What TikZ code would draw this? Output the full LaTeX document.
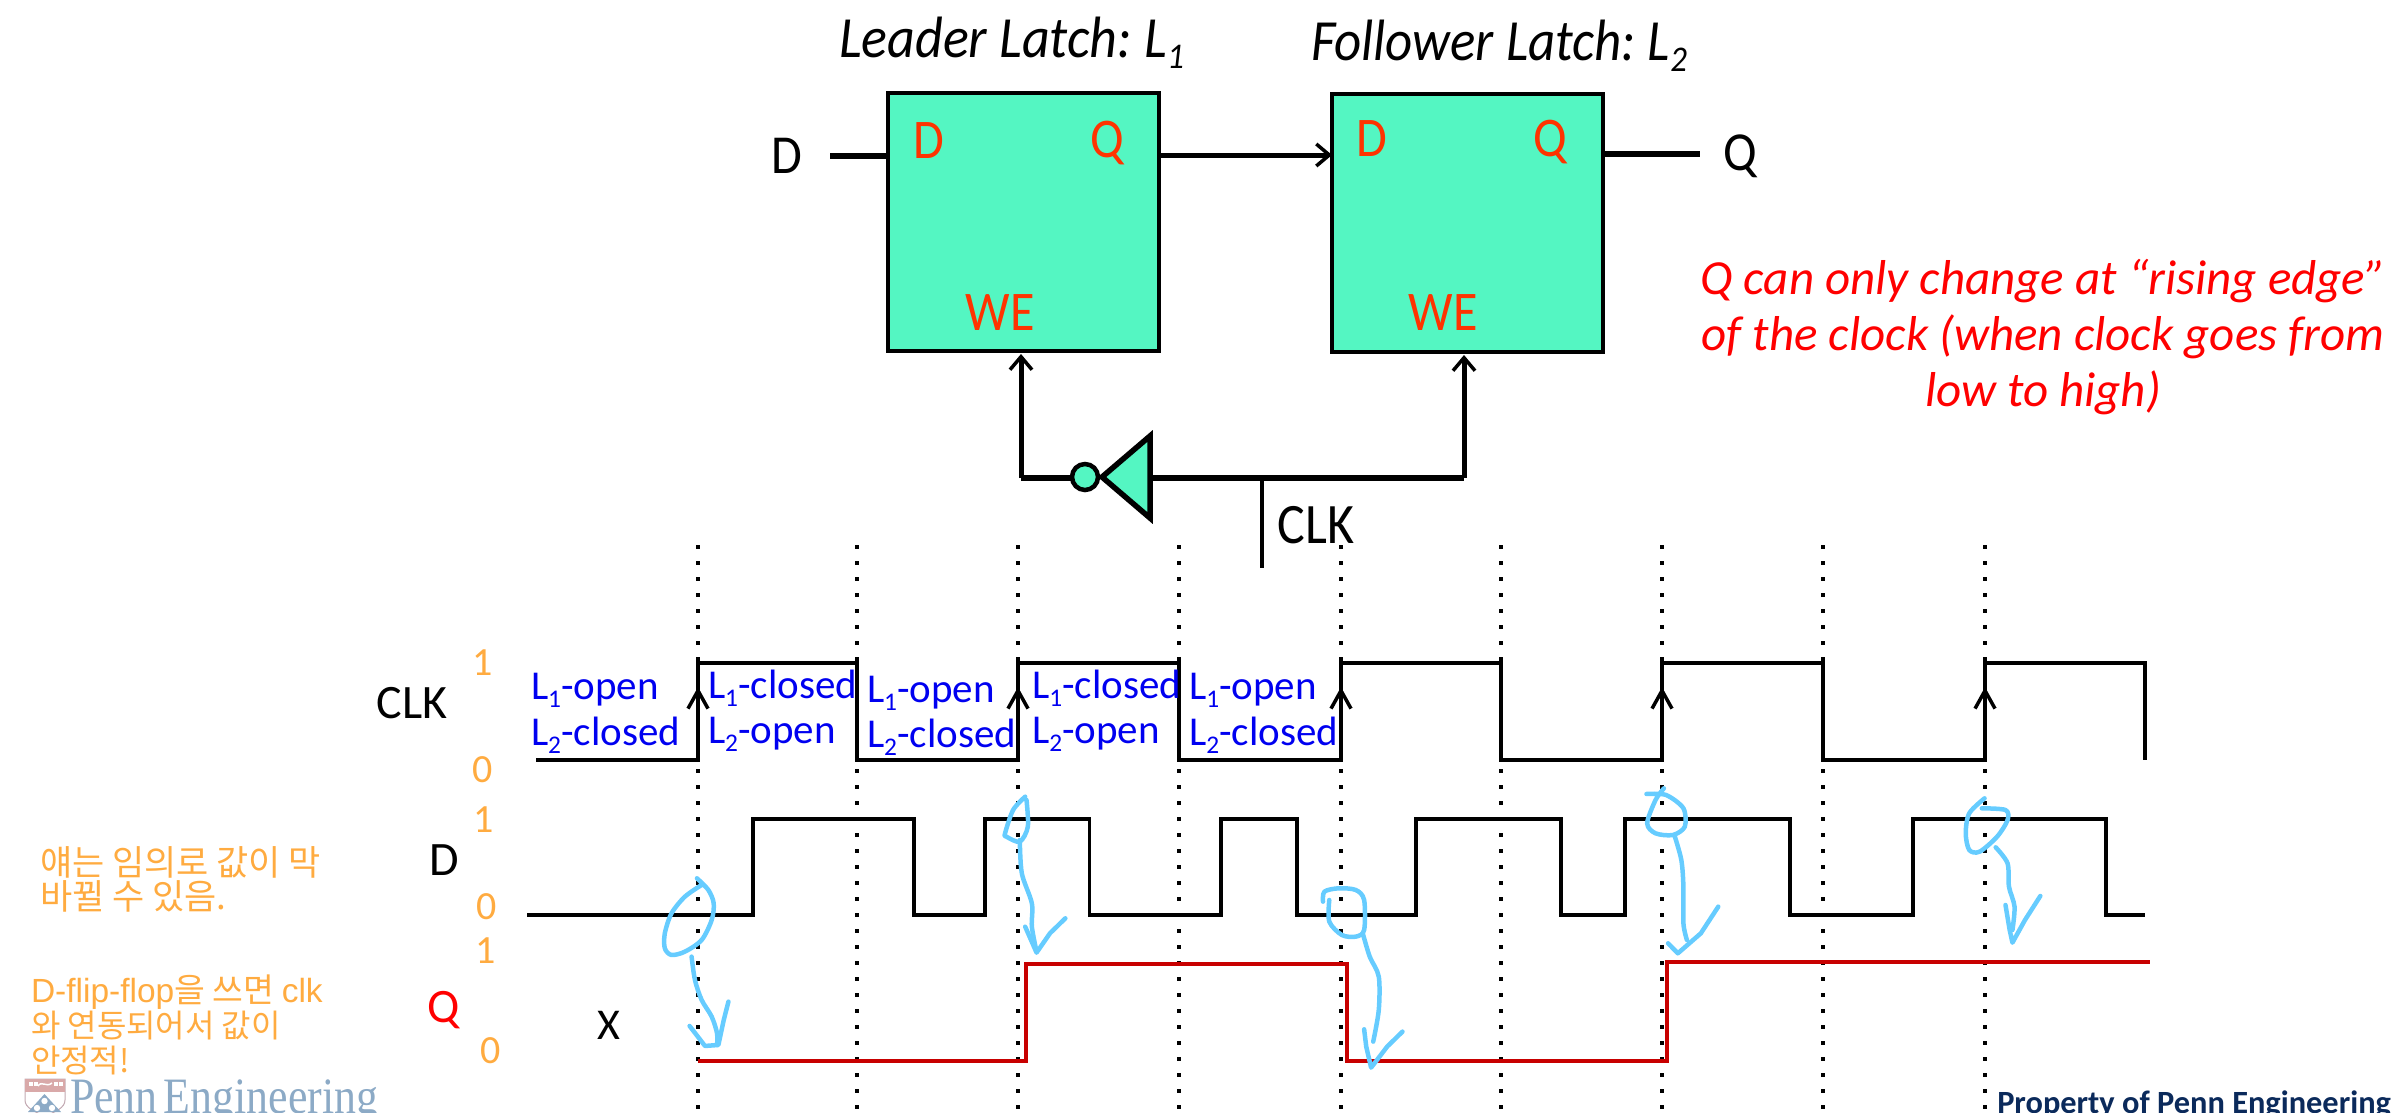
\documentclass[tikz,border=0pt]{standalone}
\usepackage{fontspec}
\setmainfont{Carlito}
\newfontfamily\krfont{Noto Sans CJK KR}
\newfontfamily\arialfont{Liberation Sans}
\newfontfamily\logofont{Liberation Serif}
\usetikzlibrary{arrows.meta,calc}
\definecolor{latchfill}{HTML}{54F6C2}
\definecolor{pinred}{HTML}{FF3300}
\definecolor{statblue}{HTML}{0000F0}
\definecolor{noteorange}{HTML}{FFAB40}
\definecolor{handblue}{HTML}{66CCFF}
\definecolor{qred}{HTML}{C80000}
\definecolor{navytext}{HTML}{0B2A5B}
\definecolor{logoblue}{HTML}{8CAAC6}
\definecolor{logored}{HTML}{D9A9A9}
\newcommand{\sbs}[1]{\raisebox{-.2em}{\scalebox{.62}{#1}}}
\newcommand{\fsz}[1]{\fontsize{#1}{#1}\selectfont}
\frenchspacing
\tikzset{
  every node/.style={inner sep=0pt,outer sep=0pt},
  latch/.style={draw=black,line width=4.5pt,fill=latchfill,minimum width=271pt,minimum height=258pt,anchor=north west},
  pin/.style={text=pinred,font=\fsz{50},yscale=1.12},
  ext/.style={text=black,font=\fsz{50},yscale=1.1},
  title/.style={font=\fsz{54}\itshape,anchor=base west,yscale=1.08},
  wire/.style={line width=5.5pt},
  arrowwire/.style={line width=5pt,-{Straight Barb[length=13pt,width=22pt,line width=3.5pt]}},
  dots/.style={line width=3.5pt,dash pattern=on 3.5pt off 12.5pt},
  clkwave/.style={line width=4pt,line join=miter},
  dwave/.style={line width=3.6pt},
  qwave/.style={line width=4pt,draw=qred},
  stat/.style={text=statblue,font=\fsz{41},anchor=base west},
  lvl/.style={text=noteorange,font=\fsz{40}},
  rowname/.style={font=\fsz{48}},
  note/.style={text=noteorange,font=\fsz{35}\krfont,anchor=base west},
  note2/.style={text=noteorange,font=\fsz{32}\krfont,anchor=base west},
  hand/.style={draw=handblue,line width=4.5pt,line cap=round,line join=round},
  zoomA/.style={shift={(350pt,-620pt)},x=0.6698pt,y=-0.3333pt},
  zoomB/.style={shift={(1300pt,-620pt)},x=0.6971pt,y=-0.3333pt},
  rising/.style={line width=3.5pt,-{Straight Barb[length=18pt,width=20pt,line width=3.5pt]}},
}
\begin{document}
\begin{tikzpicture}[x=1pt,y=-1pt]
\useasboundingbox (0,0) rectangle (2393,1112);
\clip (0,0) rectangle (2393,1112);
% titles
\node[title] (t1) at (839,57) {Leader Latch: L\sbs{1}};
\node[title,xscale=.98] (t2) at (1311,60) {Follower Latch: L\sbs{2}};
% latches
\node[latch] (b1) at (888,93) {};
\node[latch] (b2) at (1332,94) {};
\node[pin] (d1) at (929,141) {D};
\node[pin] (q1) at (1107,143) {Q};
\node[pin] (we1) at (1000,313) {WE};
\node[pin] (d2) at (1372,139) {D};
\node[pin] (q2) at (1550,142) {Q};
\node[pin] (we2) at (1443,313) {WE};
% external
\node[ext] (dext) at (787,156) {D};
\node[ext] (qext) at (1740,156) {Q};
\coordinate (dstub) at (830,156);
\coordinate (qstub) at (1700,154);
\draw[wire] (dstub) -- (dstub -| b1.west);
\draw[arrowwire] (b1.east |- 0,155) -- (b2.west |- 0,155);
\draw[wire] (b2.east |- qstub) -- (qstub);
% inverter and clock
\coordinate (bus) at (1464,478);
\coordinate (leftc) at (1021,478);
\coordinate (clkj) at (1262,478);
\coordinate (clkend) at (1262,568);
\coordinate (tribase) at (1150,478);
\draw[wire] (tribase) -- (bus);
\draw[wire] (leftc) -- (1075,478);
\draw[arrowwire] (leftc) -- (1021,354);
\draw[arrowwire] (bus) -- (1464,355);
\draw[line width=4.5pt] (clkj) -- (clkend);
\draw[line width=5.5pt,fill=latchfill,line join=miter] (1150,436) -- (1102,477) -- (1150,518) -- cycle;
\node[draw=black,line width=4.5pt,fill=latchfill,circle,minimum size=26pt] (bub) at (1085,477) {};
\node[ext,font=\fsz{52}] (clkt) at (1316,525) {CLK};
% note
\node[text=red,font=\fsz{49}\itshape,align=center,anchor=north] (rn) at (2043,259) {Q can only change at “rising edge”\\[7pt]of the clock (when clock goes from\\[7pt]low to high)};
% dotted
\foreach \xx in {698,857,1018,1179,1341,1501,1662,1823,1985}
  \draw[dots] (\xx,545.2) -- (\xx,1112);
% waveforms
\draw[clkwave] (536,760) -- (698,760) -- (698,663) -- (857,663) -- (857,760) -- (1018,760) -- (1018,663) -- (1179,663) -- (1179,760) -- (1341,760) -- (1341,663) -- (1501,663) -- (1501,760) -- (1662,760) -- (1662,663) -- (1823,663) -- (1823,760) -- (1985,760) -- (1985,663) -- (2145,663) -- (2145,760);
\foreach \xx in {698,1018,1341,1662,1985}
  \draw[rising] (\xx,712) -- (\xx,687);
\draw[dwave] (527,915) -- (753,915) -- (753,819) -- (914,819) -- (914,915) -- (985,915) -- (985,819) -- (1089.5,819) -- (1089.5,915) -- (1221,915) -- (1221,819) -- (1297,819) -- (1297,915) -- (1416,915) -- (1416,819) -- (1561,819) -- (1561,915) -- (1625,915) -- (1625,819) -- (1790,819) -- (1790,915) -- (1913,915) -- (1913,819) -- (2106,819) -- (2106,915) -- (2145,915);
\draw[qwave] (698,1061) -- (1026,1061) -- (1026,964) -- (1347,964) -- (1347,1061) -- (1667,1061) -- (1667,962) -- (2150,962);
% state labels
\node[stat] (s1a) at (531,699) {L\sbs{1}-open};
\node[stat] (s1b) at (531,745) {L\sbs{2}-closed};
\node[stat] (s2a) at (708,698) {L\sbs{1}-closed};
\node[stat] (s2b) at (708,743) {L\sbs{2}-open};
\node[stat] (s3a) at (867,702) {L\sbs{1}-open};
\node[stat] (s3b) at (867,747) {L\sbs{2}-closed};
\node[stat] (s4a) at (1032,698) {L\sbs{1}-closed};
\node[stat] (s4b) at (1032,743) {L\sbs{2}-open};
\node[stat] (s5a) at (1189,699) {L\sbs{1}-open};
\node[stat] (s5b) at (1189,745) {L\sbs{2}-closed};
% row names
\node[rowname] (rclk) at (412,703) {CLK};
\node[rowname] (rd) at (444,860) {D};
\node[rowname,text=red] (rq) at (444,1010) {Q};
\node[rowname,font=\fsz{44}] (rx) at (609,1025) {X};
\node[lvl] (c1) at (483,663) {1};
\node[lvl] (c0) at (483,770) {0};
\node[lvl] (d1l) at (484,820) {1};
\node[lvl] (d0l) at (487,907) {0};
\node[lvl] (q1l) at (486,951) {1};
\node[lvl] (q0l) at (491,1051) {0};
% notes
\node[note] (n1) at (40,875) {얘는 임의로 값이 막};
\node[note] (n2) at (40,909) {바뀔 수 있음.};
\node[note,font=\fsz{33.5}\krfont] (n3) at (31,1002) {{\arialfont D-flip-flop}을 쓰면 {\arialfont clk}};
\node[note2] (n4) at (31,1037) {와 연동되어서 값이};
\node[note2] (n5) at (31,1072) {안정적!};
% footer logo
\fill[white,draw=logored!70!logoblue,line width=1pt] (25,1079) -- (65,1079) -- (65,1100) .. controls (65,1108) and (55,1112) .. (45,1116) .. controls (35,1112) and (25,1108) .. (25,1100) -- cycle;
\fill[logored] (25,1079) rectangle (65,1092);
\foreach \xx in {29,34,54,59}
  \fill[white] (\xx,1082) rectangle +(3.5,4);
\draw[white,line width=1.5pt] (38,1086) .. controls (42,1080) and (46,1088) .. (52,1083);
\fill[logoblue] (44.5,1094) -- (28,1112) -- (61,1112) -- cycle;
\fill[white] (44.5,1101) circle (3.2);
\fill[white] (37,1108) circle (3.2);
\fill[white] (52,1108) circle (3.2);
\node[text=logoblue,font=\fsz{51}\logofont,anchor=base west,xscale=.86] (logo) at (70,1113) {Penn\hspace{.14em}Engineering};
\node[text=navytext,font=\fsz{32.4}\bfseries,anchor=base east] (prop) at (2391,1113) {Property of Penn Engineering};
% handwriting
\begin{scope}[zoomA]
\draw[hand] plot[smooth] coordinates {(518,775)(535,810)(543,850)(540,900)(525,960)(500,995)(480,1005)(470,985)(470,940)(480,880)(500,830)(525,795)};
\draw[hand] plot[smooth] coordinates {(510,1010)(515,1080)(525,1140)(540,1190)(548,1240)(548,1275)};
\draw[hand] (565,1145) -- (558,1200) -- (550,1275) -- (530,1278) -- (507,1218);
\draw[hand] plot[smooth] coordinates {(1008,530)(990,570)(978,640)(980,650)(1000,665)(1012,620)(1010,540)};
\draw[hand] plot[smooth] coordinates {(1000,660)(1003,760)(1018,850)(1018,920)(1025,995)};
\draw[hand] (1008,920) -- (1025,998) -- (1045,940) -- (1068,895);
\end{scope}
\begin{scope}[zoomB]
\draw[hand] plot[smooth] coordinates {(33,845)(35,815)(55,805)(80,810)(92,840)(92,930)(80,950)(60,945)(42,905)(42,840)};
\draw[hand] plot[smooth] coordinates {(90,940)(100,1010)(113,1070)(113,1170)(105,1265)};
\draw[hand] (92,1228) -- (95,1280) -- (102,1343) -- (125,1280) -- (147,1235);
\draw[hand] plot[smooth] coordinates {(497,522)(525,525)(550,565)(552,620)(535,645)(510,640)(498,610)(510,540)(522,505)};
\draw[hand] plot[smooth] coordinates {(537,645)(547,720)(550,800)(550,910)(555,960)};
\draw[hand] (528,970) -- (542,1000) -- (575,940) -- (600,860);
\draw[hand] plot[smooth] coordinates {(982,535)(960,580)(955,640)(960,690)(975,695)(1000,650)(1015,600)(1012,570)(978,565)};
\draw[hand] plot[smooth] coordinates {(998,682)(1015,730)(1017,800)(1025,860)(1022,930)};
\draw[hand] (1012,855) -- (1018,930) -- (1022,968) -- (1040,900) -- (1062,828);
\end{scope}
\end{tikzpicture}
\end{document}
